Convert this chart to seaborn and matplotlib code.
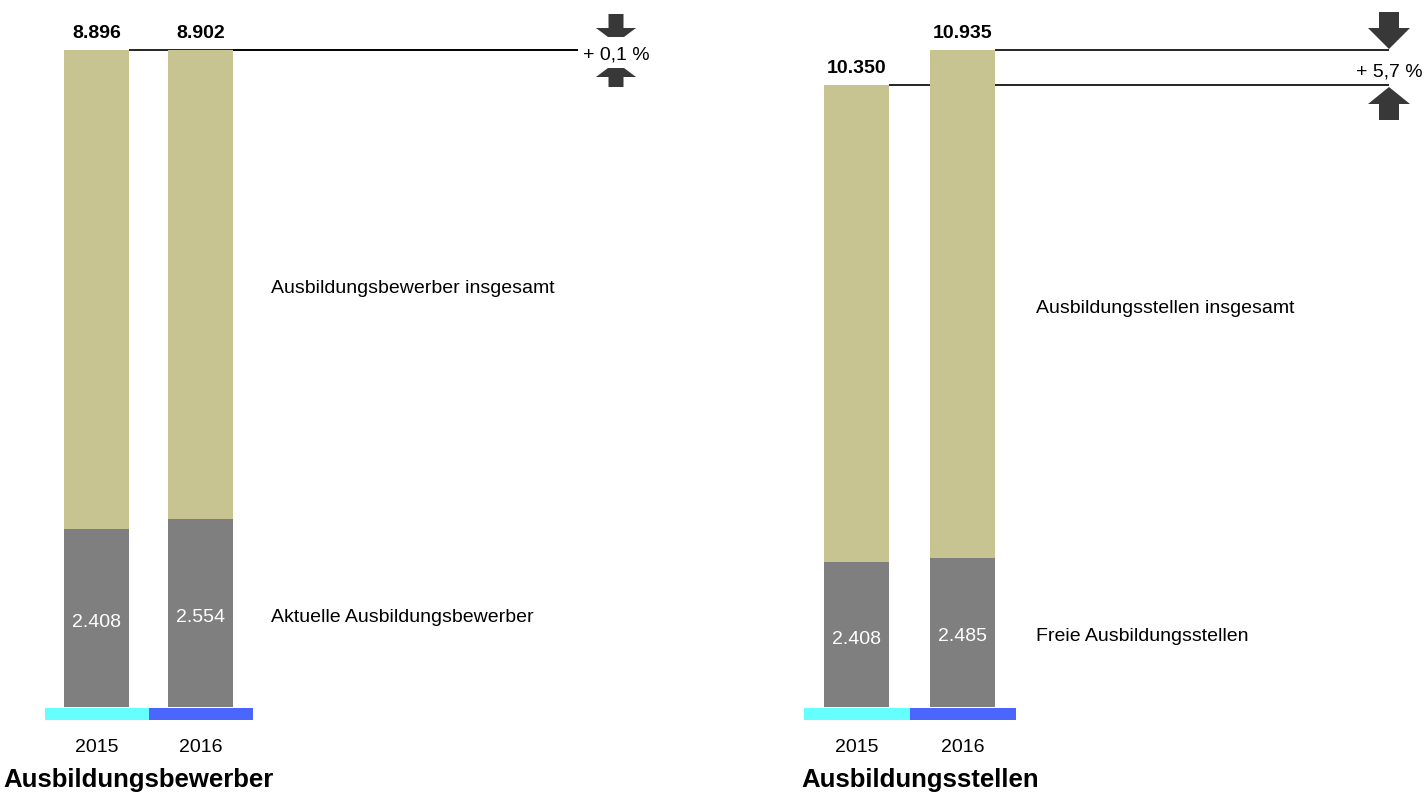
import numpy as np
import pandas as pd
import matplotlib
matplotlib.use("Agg")
import matplotlib.pyplot as plt
import seaborn as sns
from matplotlib.patches import Polygon

# ---------------- data ----------------
years = ["2015", "2016"]
bewerber_insgesamt = [8896, 8902]
bewerber_aktuell = [2408, 2554]
stellen_insgesamt = [10350, 10935]
stellen_frei = [2408, 2485]
veraenderung = ["+ 0,1 %", "+ 5,7 %"]
titel = ["Ausbildungsbewerber", "Ausbildungsstellen"]
label_insgesamt = ["Ausbildungsbewerber insgesamt", "Ausbildungsstellen insgesamt"]
label_teil = ["Aktuelle Ausbildungsbewerber", "Freie Ausbildungsstellen"]


def fmt(v):
    return f"{v:,}".replace(",", ".")


# ---------------- style ----------------
W, H = 1424, 794
KHAKI = "#C8C492"
GRAY = "#7F7F7F"
STRIP = ["#66FFFF", "#4A66FF"]
ARROW = "#383838"

sns.set_theme(style="white")
plt.rcParams["font.family"] = ["Liberation Sans", "DejaVu Sans"]

fig = plt.figure(figsize=(W / 100, H / 100), dpi=100)
fig.patch.set_facecolor("white")

panels = [
    dict(total=bewerber_insgesamt, part=bewerber_aktuell, px0=0, px1=712,
         c0=96.5, step=104, line_end=578, text_x=271, cx=616, title_x=3,
         down=(14, 28, 37, 8), up=(68, 77, 87, 8), shaft=7.5, head=20),
    dict(total=stellen_insgesamt, part=stellen_frei, px0=712, px1=1424,
         c0=856.5, step=106, line_end=1389, text_x=1036, cx=1389, title_x=801,
         down=(12, 28, 49, 0), up=(87, 104, 120, 0), shaft=10, head=21),
]
BASE, TOP, BAR_W = 707, 50, 65
BL = 9  # px from vertical centre down to text baseline

for i, p in enumerate(panels):
    ax = fig.add_axes([p["px0"] / W, 0, (p["px1"] - p["px0"]) / W, 1])
    vmax = max(p["total"])
    u = vmax / (BASE - TOP)  # data units per pixel

    def X(px, p=p):
        return (px - p["c0"]) / p["step"]

    def Y(py, u=u):
        return (BASE - py) * u

    w = BAR_W / p["step"]
    df = pd.DataFrame({"Jahr": years, "insgesamt": p["total"], "teil": p["part"]})
    sns.barplot(data=df, x="Jahr", y="insgesamt", color=KHAKI, saturation=1,
                width=w, linewidth=0, errorbar=None, ax=ax, zorder=2)
    sns.barplot(data=df, x="Jahr", y="teil", color=GRAY, saturation=1,
                width=w, linewidth=0, errorbar=None, ax=ax, zorder=2)

    xs = np.arange(len(years))
    # colored year strips
    ax.bar(xs, height=12 * u, bottom=Y(720), width=1.0, color=STRIP,
           linewidth=0, zorder=2)

    # connector lines and total labels
    for j, tot in enumerate(p["total"]):
        ax.plot([j + w / 2, X(p["line_end"])], [tot, tot], color="black",
                lw=1.2, solid_capstyle="butt", zorder=1)
        ax.text(j, tot + 12 * u, fmt(tot), ha="center", va="baseline",
                fontsize=14, fontweight="bold", color="black")
    for j, part in enumerate(p["part"]):
        ax.text(j, part / 2 - BL * u, fmt(part), ha="center", va="baseline",
                fontsize=14, color="white", zorder=3)
    for j, yr in enumerate(years):
        ax.text(j, Y(752), yr, ha="center", va="baseline", fontsize=14,
                color="black")

    # segment labels next to last bar
    ax.text(X(p["text_x"]), (p["total"][-1] + p["part"][-1]) / 2 - BL * u,
            label_insgesamt[i], ha="left", va="baseline", fontsize=14,
            color="black")
    ax.text(X(p["text_x"]), p["part"][-1] / 2 - BL * u, label_teil[i],
            ha="left", va="baseline", fontsize=14, color="black")

    # change text and arrows
    ax.text(X(p["cx"]), np.mean(p["total"]) - BL * u, veraenderung[i],
            ha="center", va="baseline", fontsize=14, color="black")
    cx, s, h = p["cx"], p["shaft"], p["head"]
    top, hb, bot, tw = p["down"]
    pts = [(cx - s, top), (cx + s, top), (cx + s, hb), (cx + h, hb),
           (cx + tw, bot), (cx - tw, bot), (cx - h, hb), (cx - s, hb)]
    ax.add_patch(Polygon([(X(a), Y(b)) for a, b in pts], closed=True,
                         facecolor=ARROW, edgecolor="none", zorder=3))
    top, hb, bot, tw = p["up"]
    pts = [(cx - tw, top), (cx + tw, top), (cx + h, hb), (cx + s, hb),
           (cx + s, bot), (cx - s, bot), (cx - s, hb), (cx - h, hb)]
    ax.add_patch(Polygon([(X(a), Y(b)) for a, b in pts], closed=True,
                         facecolor=ARROW, edgecolor="none", zorder=3))

    # panel title
    ax.text(X(p["title_x"]), Y(787), titel[i], ha="left", va="baseline",
            fontsize=18.5, fontweight="bold", color="black")

    ax.set_xlim(X(p["px0"]), X(p["px1"]))
    ax.set_ylim(Y(H), Y(0))
    ax.set_axis_off()

fig.savefig("out.png", dpi=100, facecolor="white")
